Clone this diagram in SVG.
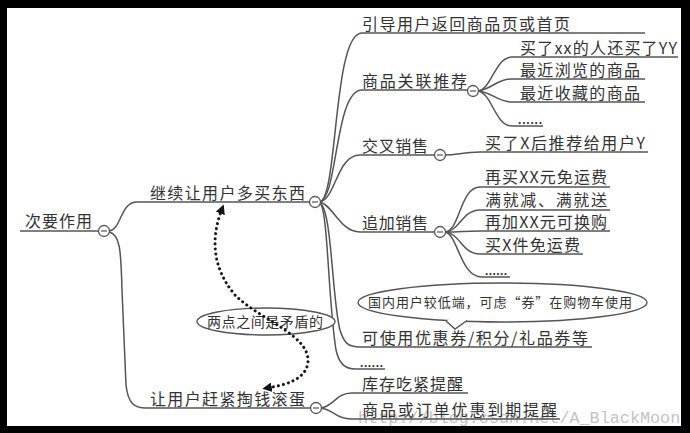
<svg xmlns="http://www.w3.org/2000/svg" width="690" height="433" viewBox="0 0 690 433">
<style>
.t{font-family:"Noto Sans CJK SC","Noto Sans",sans-serif;font-size:16px;fill:#333}
.s{font-family:"Noto Sans CJK SC","Noto Sans",sans-serif;font-size:13px;fill:#333}
.d{font-family:"Liberation Sans",sans-serif;font-size:12px;font-weight:bold;fill:#333}
.c{fill:none;stroke:#555;stroke-width:1.5}
.k circle{fill:#fff;stroke:#555;stroke-width:1.3}
.k line{stroke:#555;stroke-width:1.2}
.wm{font-family:"Liberation Mono",monospace;font-size:16.8px;fill:#c4c4c4}
</style>
<defs>
<marker id="ah" viewBox="0 0 10 10" refX="5" refY="5" markerWidth="3.2" markerHeight="3.2" orient="auto-start-reverse" markerUnits="strokeWidth">
<path d="M0,0 L10,5 L0,10 z" fill="#111"/>
</marker>
</defs>
<rect x="0" y="0" width="690" height="433" fill="#000"/>
<rect x="7" y="8" width="674" height="418" fill="#fff"/>
<text class="wm" x="358" y="423">http://blog.csdn.net/A_BlackMoon</text>

<g id="connectors">
<path class="c" d="M20,231 L99,231"/>
<path class="c" d="M109,231 C122,229 120,202 137,202 L310,202"/>
<path class="c" d="M109,232 C120,234 121,250 122,290 L126,385 C128,403 134,408 146,408 L311,408"/>
<path class="c" d="M320,202 C338,196 333,33 362,33 L645,33"/>
<path class="c" d="M320,202 C338,196 335,90 362,90 L468,90"/>
<path class="c" d="M320,202 C336,198 337,155 360,155 L435,155"/>
<path class="c" d="M320,202 C333,205 340,232 360,232 L435,232"/>
<path class="c" d="M320,203 C332,210 332,300 340,330 C344,343 348,347 360,347 L592,347"/>
<path class="c" d="M320,203 C328,210 328,300 336,350 C339,363 344,369 356,369 L385,369"/>
<path class="c" d="M478,91 C492,89 495,57 512,57 L678,57"/>
<path class="c" d="M478,91 C492,89 497,79 512,79 L645,79"/>
<path class="c" d="M478,91 C492,92 497,102 512,102 L645,102"/>
<path class="c" d="M478,91 C492,93 495,126 512,126 L543,126"/>
<path class="c" d="M445,155 C458,155 462,152 480,152 L648,152"/>
<path class="c" d="M445,232 C460,231 460,187 480,187 L610,187"/>
<path class="c" d="M445,232 C460,231 462,210 480,210 L610,210"/>
<path class="c" d="M445,232 C460,232 465,231 480,231 L610,231"/>
<path class="c" d="M445,232 C460,233 462,254 480,254 L583,254"/>
<path class="c" d="M445,232 C458,234 460,277 482,277 L510,277"/>
<path class="c" d="M321,408 C334,406 336,393 352,393 L468,393"/>
<path class="c" d="M321,408 C334,410 336,419 352,419 L560,419"/>
</g>

<g class="k" id="toggles">
<g id="tg-root"><circle cx="104" cy="231" r="5.5"/><line x1="101" y1="231" x2="107" y2="231"/></g>
<g id="tg-a"><circle cx="315" cy="202" r="5.5"/><line x1="312" y1="202" x2="318" y2="202"/></g>
<g id="tg-b"><circle cx="473" cy="91" r="5.5"/><line x1="470" y1="91" x2="476" y2="91"/></g>
<g id="tg-c"><circle cx="440" cy="155" r="5.5"/><line x1="437" y1="155" x2="443" y2="155"/></g>
<g id="tg-d"><circle cx="440" cy="232" r="5.5"/><line x1="437" y1="232" x2="443" y2="232"/></g>
<g id="tg-e"><circle cx="316" cy="408" r="5.5"/><line x1="313" y1="408" x2="319" y2="408"/></g>
</g>

<g id="n-root"><text class="t" x="25" y="227" textLength="67" lengthAdjust="spacing">次要作用</text></g>
<g id="n-more"><text class="t" x="150" y="199" textLength="155" lengthAdjust="spacing">继续让用户多买东西</text></g>
<g id="n-pay"><text class="t" x="150" y="405" textLength="155" lengthAdjust="spacing">让用户赶紧掏钱滚蛋</text></g>
<g id="n-guide"><text class="t" x="362" y="30" textLength="208" lengthAdjust="spacing">引导用户返回商品页或首页</text></g>
<g id="n-rel"><text class="t" x="362" y="87" textLength="105" lengthAdjust="spacing">商品关联推荐</text></g>
<g id="n-cross"><text class="t" x="362" y="152" textLength="66" lengthAdjust="spacing">交叉销售</text></g>
<g id="n-up"><text class="t" x="362" y="229" textLength="66" lengthAdjust="spacing">追加销售</text></g>
<g id="n-coupon"><text class="t" x="362" y="344" textLength="226" lengthAdjust="spacing">可使用优惠券/积分/礼品券等</text></g>
<g id="n-etc1"><text class="d" x="360" y="367" textLength="23" lengthAdjust="spacing">......</text></g>
<g id="n-r1"><text class="t" x="520" y="54" textLength="157" lengthAdjust="spacing">买了xx的人还买了YY</text></g>
<g id="n-r2"><text class="t" x="520" y="76" textLength="120" lengthAdjust="spacing">最近浏览的商品</text></g>
<g id="n-r3"><text class="t" x="520" y="99" textLength="120" lengthAdjust="spacing">最近收藏的商品</text></g>
<g id="n-r4"><text class="d" x="518" y="124" textLength="24" lengthAdjust="spacing">......</text></g>
<g id="n-c1"><text class="t" x="485" y="149" textLength="160" lengthAdjust="spacing">买了X后推荐给用户Y</text></g>
<g id="n-u1"><text class="t" x="485" y="183" textLength="122" lengthAdjust="spacing">再买XX元免运费</text></g>
<g id="n-u2"><text class="t" x="485" y="206" textLength="122" lengthAdjust="spacing">满就减、满就送</text></g>
<g id="n-u3"><text class="t" x="485" y="228" textLength="122" lengthAdjust="spacing">再加XX元可换购</text></g>
<g id="n-u4"><text class="t" x="485" y="251" textLength="95" lengthAdjust="spacing">买X件免运费</text></g>
<g id="n-u5"><text class="d" x="485" y="275" textLength="22" lengthAdjust="spacing">......</text></g>
<g id="n-p1"><text class="t" x="362" y="390" textLength="101" lengthAdjust="spacing">库存吃紧提醒</text></g>
<g id="n-p2"><text class="t" x="362" y="416" textLength="195" lengthAdjust="spacing">商品或订单优惠到期提醒</text></g>

<g id="n-callout">
<ellipse cx="502.5" cy="302.5" rx="144.5" ry="19.5" fill="#fff" stroke="#555" stroke-width="1.4"/>
<path d="M446,321 L455,329 L467,320.5" fill="#fff" stroke="#555" stroke-width="1.4"/>
<path d="M447.5,320.6 L465.5,320.2" stroke="#fff" stroke-width="1.6"/>
<text class="s" x="368" y="307" textLength="264" lengthAdjust="spacing">国内用户较低端，可虑“券”在购物车使用</text>
</g>

<g id="n-note">
<ellipse cx="266" cy="321.5" rx="69" ry="13.5" fill="#fff" stroke="#555" stroke-width="1.4"/>
<text class="s" x="207" y="326.5" textLength="116" lengthAdjust="spacing" style="font-size:14px">两点之间是矛盾的</text>
</g>

<g id="dotted-link">
<path d="M222,209 C212,235 210,265 235,295 C260,320 310,335 308,362 C306,380 285,385 267,388" fill="none" stroke="#1a1a1a" stroke-width="3" stroke-dasharray="0.1 5" stroke-linecap="round" marker-start="url(#ah)" marker-end="url(#ah)"/>
</g>
</svg>
